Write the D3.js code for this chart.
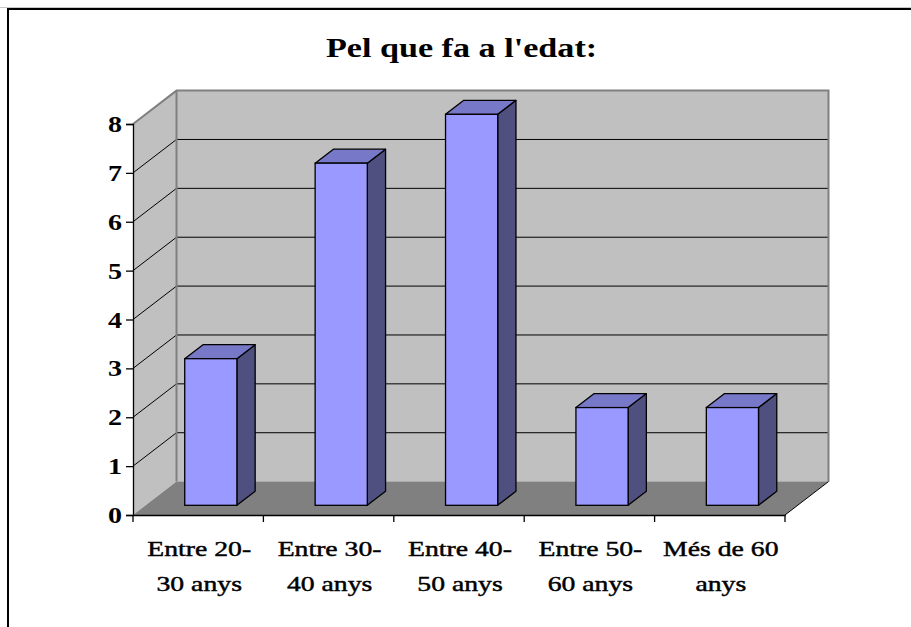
<!DOCTYPE html>
<html><head><meta charset="utf-8">
<script src="https://cdn.jsdelivr.net/npm/d3@7"></script>
<style>body{margin:0;background:#fff}svg{display:block}</style>
</head><body>
<script>
const categories = ["Entre 20-|30 anys","Entre 30-|40 anys","Entre 40-|50 anys","Entre 50-|60 anys","Més de 60|anys"];
const values = [3, 7, 8, 2, 2];
const yTicks = [0,1,2,3,4,5,6,7,8];
const title = "Pel que fa a l'edat:";

const W = 911, H = 627;
const svg = d3.select("body").append("svg").attr("width", W).attr("height", H);

// frame
svg.append("line").attr("x1",0).attr("x2",W).attr("y1",7.5).attr("y2",7.5).attr("stroke","#c8c8c8").attr("stroke-width",1);
svg.append("line").attr("x1",8).attr("x2",W).attr("y1",9).attr("y2",9).attr("stroke","#000").attr("stroke-width",2);
svg.append("line").attr("x1",8).attr("x2",8).attr("y1",8).attr("y2",H).attr("stroke","#000").attr("stroke-width",2);

const x0 = 133, x1 = 785, yBase = 515, yTop = 124;
const DX = 43.5, DY = 33.4;
const x = d3.scaleBand().domain(categories).range([x0, x1]).padding(0);
const y = d3.scaleLinear().domain([0, 8]).range([yBase, yTop]);

// stretched serif text helper
function stretchedText(parent, tx, ty, str, opts) {
  const gg = parent.append("g").attr("transform", `translate(${tx},${ty}) scale(${opts.sx},1)`);
  const t = gg.append("text").attr("x",0).attr("y",0).attr("text-anchor",opts.anchor || "middle")
    .attr("font-family","Liberation Serif").attr("font-size",opts.size)
    .attr("font-weight",opts.weight || "normal").attr("fill","#000").text(str);
  if (opts.stroke) t.attr("stroke","#000").attr("stroke-width",opts.stroke);
  if (opts.dy) t.attr("dy",opts.dy);
  return t;
}

// side wall
svg.append("polygon")
  .attr("points", [[x0,y(0)],[x0+DX,y(0)-DY],[x0+DX,y(8)-DY],[x0,y(8)]].map(p=>p.join(",")).join(" "))
  .attr("fill","#c0c0c0");
// back wall
svg.append("rect").attr("x",x0+DX).attr("y",y(8)-DY).attr("width",x1-x0).attr("height",y(0)-y(8))
  .attr("fill","#c0c0c0");
// floor
svg.append("polygon")
  .attr("points", [[x0,y(0)],[x1,y(0)],[x1+DX,y(0)-DY],[x0+DX,y(0)-DY]].map(p=>p.join(",")).join(" "))
  .attr("fill","#808080");

// gridlines
const g = svg.append("g");
yTicks.filter(v=>v>0 && v<8).forEach(v=>{
  g.append("line").attr("x1",x0).attr("y1",y(v)).attr("x2",x0+DX).attr("y2",y(v)-DY).attr("stroke","#000").attr("stroke-width",1);
  g.append("line").attr("x1",x0+DX).attr("y1",y(v)-DY).attr("x2",x1+DX).attr("y2",y(v)-DY).attr("stroke","#000").attr("stroke-width",1);
});
// wall borders
svg.append("path")
  .attr("d", `M${x0},${y(8)} L${x0+DX},${y(8)-DY} L${x1+DX},${y(8)-DY} L${x1+DX},${y(0)-DY} M${x0+DX},${y(8)-DY} L${x0+DX},${y(0)-DY}`)
  .attr("fill","none").attr("stroke","#808080").attr("stroke-width",2);
svg.append("path")
  .attr("d", `M${x1},${y(0)} L${x1+DX},${y(0)-DY}`)
  .attr("fill","none").attr("stroke","#000").attr("stroke-width",1);

// bars
const bw = x.bandwidth();
const f0 = 0.29, fd = 0.42;
const bars = svg.append("g");
categories.forEach((c,i)=>{
  const v = values[i];
  const lx = x(c) + bw*0.3 + DX*f0;
  const w = bw*0.4;
  const by = y(0) - DY*f0;
  const ty = y(v) - DY*f0;
  const ddx = DX*fd, ddy = DY*fd;
  bars.append("polygon").attr("points",[[lx+w,by],[lx+w+ddx,by-ddy],[lx+w+ddx,ty-ddy],[lx+w,ty]].map(p=>p.join(",")).join(" "))
    .attr("fill","#4f4f80").attr("stroke","#000").attr("stroke-width",1.3).attr("stroke-linejoin","round");
  bars.append("polygon").attr("points",[[lx,ty],[lx+ddx,ty-ddy],[lx+w+ddx,ty-ddy],[lx+w,ty]].map(p=>p.join(",")).join(" "))
    .attr("fill","#7878c8").attr("stroke","#000").attr("stroke-width",1.3).attr("stroke-linejoin","round");
  bars.append("rect").attr("x",lx).attr("y",ty).attr("width",w).attr("height",by-ty)
    .attr("fill","#9999ff").attr("stroke","#000").attr("stroke-width",1.3);
});

// axes
const yAxis = svg.append("g").attr("transform",`translate(${x0},0)`)
  .call(d3.axisLeft(y).tickValues(yTicks).tickSize(7).tickFormat(""));
yAxis.select(".domain").attr("stroke","#000").attr("stroke-width",1.3);
yAxis.selectAll(".tick line").attr("stroke","#000").attr("stroke-width",1.3);
yTicks.forEach(v=>{
  stretchedText(svg, 122, y(v), d3.format("d")(v), {sx:1.22, size:23, weight:"bold", anchor:"end", dy:"0.35em"});
});

const xAxis = svg.append("g").attr("transform",`translate(0,${yBase})`)
  .call(d3.axisBottom(x).tickSize(0).tickFormat(""));
xAxis.select(".domain").attr("stroke","#000").attr("stroke-width",1.3);
const bounds = x.domain().map(d=>x(d)).concat([x1]);
bounds.forEach(b=>{
  svg.append("line").attr("x1",b).attr("x2",b).attr("y1",yBase).attr("y2",yBase+7).attr("stroke","#000").attr("stroke-width",1.3);
});

// category labels
categories.forEach(c=>{
  const lines = c.split("|");
  const cx = x(c) + bw/2 + 1;
  lines.forEach((t,j)=>{
    stretchedText(svg, cx, 556 + j*35, t, {sx:1.26, size:22, stroke:0.45});
  });
});

// title
stretchedText(svg, 461.5, 57, title, {sx:1.22, size:28, weight:"bold"});
</script>
</body></html>
